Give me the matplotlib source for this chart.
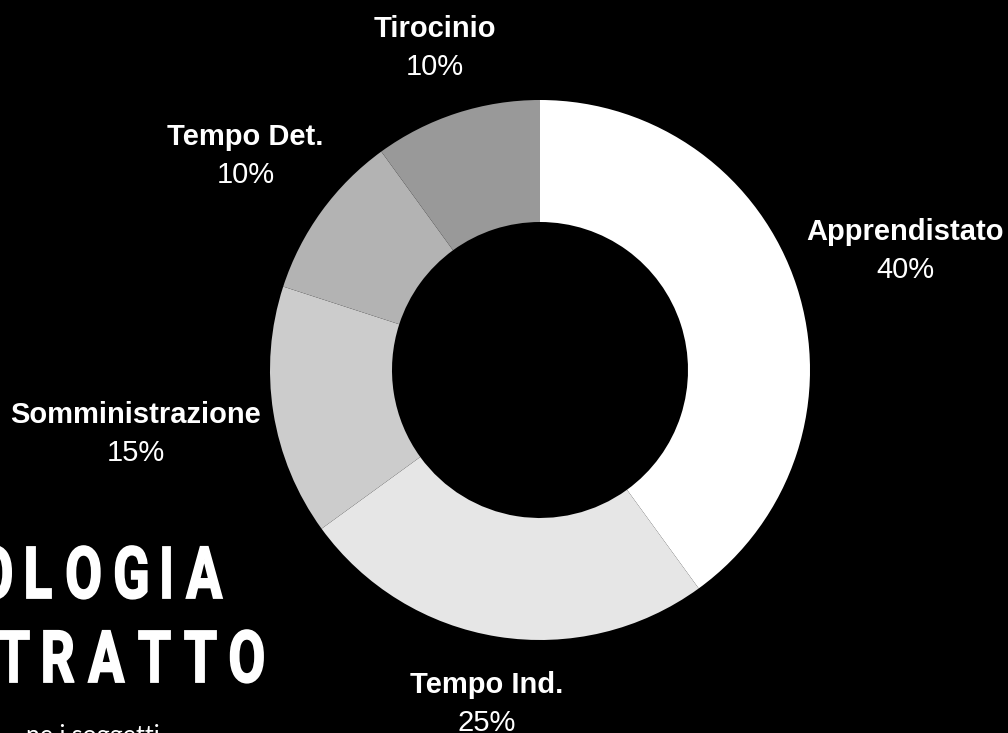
"""Donut chart: tipologia di contratto."""

import numpy as np
import matplotlib.pyplot as plt
from matplotlib.font_manager import FontProperties
from matplotlib.patches import PathPatch
from matplotlib.textpath import TextPath
from matplotlib.transforms import Affine2D

categories = ["Apprendistato", "Tempo Ind.", "Somministrazione", "Tempo Det.", "Tirocinio"]
shares = [40, 25, 15, 10, 10]
colors = ["#ffffff", "#e6e6e6", "#cccccc", "#b3b3b3", "#999999"]
# distance of each label centre from the pie centre, in pixels
label_radius = [384, 338, 409, 364, 339]
title_lines = ["TIPOLOGIA", "CONTRATTO"]
subtitle = "ne i soggetti"

W, H = 1008, 733
CX, CY, R, RING = 540, H - 370, 270, 122


def tracked_text(ax, s, x_right, y_base, size, sx=0.74, track=16):
    """Condensed, letter-spaced text drawn as paths, right edge at x_right."""
    prop = FontProperties(family="Roboto", weight="bold")
    glyphs = []
    cursor = 0.0
    for ch in s:
        path = TextPath((0, 0), ch, size=size, prop=prop)
        ext = path.get_extents()
        tr = Affine2D().translate(-ext.x0, 0).scale(sx, 1).translate(cursor, 0)
        glyphs.append((path, tr))
        cursor += ext.width * sx + track
    shift = x_right - (cursor - track)
    for path, tr in glyphs:
        p = (tr + Affine2D().translate(shift, y_base)).transform_path(path)
        ax.add_patch(PathPatch(p, facecolor="white", edgecolor="white",
                               linewidth=1.3, joinstyle="miter"))


fig = plt.figure(figsize=(W / 100, H / 100), dpi=100, facecolor="black")
ax = fig.add_axes([0, 0, 1, 1])
ax.set_facecolor("black")

wedges, _ = ax.pie(
    shares,
    colors=colors,
    startangle=90,
    counterclock=False,
    center=(CX, CY),
    radius=R,
    wedgeprops={"width": RING, "linewidth": 0},
    frame=True,
)
ax.set_xlim(0, W)
ax.set_ylim(0, H)
ax.set_aspect("equal")
ax.axis("off")

total = sum(shares)
for w, name, val, rad in zip(wedges, categories, shares, label_radius):
    mid = np.deg2rad((w.theta1 + w.theta2) / 2)
    x = CX + rad * np.cos(mid)
    y = CY + rad * np.sin(mid)
    ax.text(x, y + 19, name, color="white", fontsize=21, fontweight="bold",
            family="Liberation Sans", ha="center", va="center")
    ax.text(x, y - 19, f"{val / total * 100:.0f}%", color="white", fontsize=21,
            family="Liberation Sans", ha="center", va="center")

# title, partly cut off on the left
tracked_text(ax, title_lines[0], 222, H - 598, 72)
tracked_text(ax, title_lines[1], 263, H - 682, 72, track=15)
ax.text(160, H - 724, subtitle, color="white", fontsize=18,
        family="Lato", ha="right", va="top")

fig.savefig("out.png", dpi=100, facecolor="black")
